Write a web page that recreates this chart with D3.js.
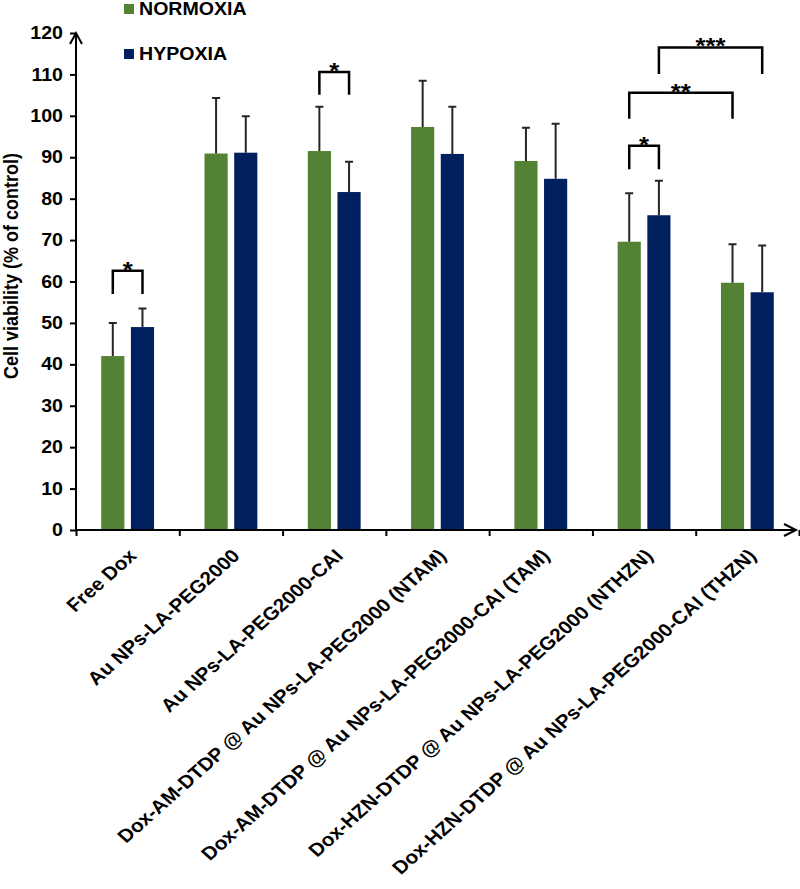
<html>
<head>
<meta charset="utf-8">
<title></title>
<style>
body{margin:0;background:#fff;}
text{font-family:"Liberation Sans",Arial,sans-serif;font-weight:bold;fill:#000;}
</style>
</head>
<body>
<svg width="800" height="889"></svg>
<script src="https://d3js.org/d3.v7.min.js" charset="utf-8"></script>
<script>
// categories along x
var cats = ["Free Dox", "Au NPs-LA-PEG2000", "Au NPs-LA-PEG2000-CAI",
    "Dox-AM-DTDP @ Au NPs-LA-PEG2000 (NTAM)", "Dox-AM-DTDP @ Au NPs-LA-PEG2000-CAI (TAM)",
    "Dox-HZN-DTDP @ Au NPs-LA-PEG2000 (NTHZN)", "Dox-HZN-DTDP @ Au NPs-LA-PEG2000-CAI (THZN)"];
var series = ["NORMOXIA", "HYPOXIA"];
var colors = ["#548235", "#002060"];
// mean values and SD (upper error only)
var normoxia = [42, 90.9, 91.5, 97.3, 89.1, 69.6, 59.7];
var normoxiaSd = [8, 13.4, 10.7, 11.2, 8, 11.7, 9.3];
var hypoxia = [49, 91.1, 81.6, 90.8, 84.8, 76, 57.4];
var hypoxiaSd = [4.5, 8.8, 7.3, 11.4, 13.3, 8.3, 11.3];
var yTicks = d3.range(0, 121, 10);
// significance brackets: [cat1, series1, cat2, series2, top, leg end, label]
var brackets = [
    [0, 0, 0, 1, 62.6, 57, "*"],
    [2, 0, 2, 1, 110.6, 105.1, "*"],
    [5, 0, 5, 1, 92.8, 87.1, "*"],
    [5, 0, 6, 0, 105.6, 99.3, "**"],
    [5, 1, 6, 1, 116.5, 110.1, "***"]
];

var svg = d3.select("svg");
var kx = 1.12; // the original picture is a bit wider than tall

var y = d3.scaleLinear().domain([0, 120]).range([530, 33]);
var xi = d3.scaleLinear().domain([0, cats.length]).range([76, 799]);
var x = d3.scaleBand().domain(cats).range([76, 799]);
var xs = d3.scaleBand().domain(series).range([0, x.bandwidth()])
    .paddingInner(0.22).paddingOuter(0.85);

var values = [normoxia, hypoxia];
var sds = [normoxiaSd, hypoxiaSd];

function cx(c, s) {
    return x(cats[c]) + xs(series[s]) + xs.bandwidth() / 2;
}

// bars
series.forEach(function(s, si) {
    var g = svg.append("g");
    g.selectAll("rect")
        .data(values[si])
        .enter()
        .append("rect")
        .attr("x", function(d, i) { return x(cats[i]) + xs(s); })
        .attr("y", function(d) { return y(d); })
        .attr("width", xs.bandwidth())
        .attr("height", function(d) { return y(0) - y(d); })
        .attr("fill", colors[si]);

    // error bars
    g.selectAll("path.err")
        .data(values[si])
        .enter()
        .append("path")
        .attr("class", "err")
        .attr("d", function(d, i) {
            var c = cx(i, si), t = y(d + sds[si][i]);
            return "M" + c + "," + y(d) + "V" + t + "M" + (c - 4) + "," + t + "H" + (c + 4);
        })
        .attr("stroke", "#262626")
        .attr("stroke-width", 2)
        .attr("fill", "none");
});

// y axis
var ya = svg.append("g")
    .attr("transform", "translate(76,0)")
    .call(d3.axisLeft(y).tickValues(yTicks).tickSize(6).tickSizeOuter(0).tickPadding(0));
ya.select(".domain").remove();
ya.selectAll(".tick line").attr("stroke", "#000").attr("stroke-width", 2);
ya.selectAll(".tick text")
    .attr("x", -13 / kx)
    .attr("transform", "scale(" + kx + ",1)")
    .style("font-size", "17.5px")
    .style("font-family", "'Liberation Sans',Arial,sans-serif")
    .style("font-weight", "bold");

// x axis (ticks on category boundaries)
var xa = svg.append("g")
    .attr("transform", "translate(0,530)")
    .call(d3.axisBottom(xi).tickValues(d3.range(0, cats.length + 1)).tickFormat("").tickSize(6).tickSizeOuter(0));
xa.select(".domain").remove();
xa.selectAll(".tick line").attr("stroke", "#000").attr("stroke-width", 2);

// axis lines with arrows
svg.append("path")
    .attr("d", "M76," + y(120) + "V530H796")
    .attr("stroke", "#000").attr("stroke-width", 2).attr("fill", "none");
svg.append("path")
    .attr("d", "M70," + (y(120) + 11) + "L76," + y(120) + "L82," + (y(120) + 11))
    .attr("stroke", "#000").attr("stroke-width", 2).attr("fill", "none");
svg.append("path")
    .attr("d", "M784,524L796,530L784,536")
    .attr("stroke", "#000").attr("stroke-width", 2).attr("fill", "none");

// x labels
svg.append("g").selectAll("text")
    .data(cats)
    .enter()
    .append("text")
    .attr("transform", function(d) {
        return "translate(" + (x(d) + x.bandwidth() / 2 + 10) + ",557) scale(" + kx + ",1) rotate(-45)";
    })
    .attr("text-anchor", "end")
    .style("font-size", "18.5px")
    .text(function(d) { return d; });

// y label
svg.append("text")
    .attr("transform", "translate(18,266) scale(" + kx + ",1) rotate(-90)")
    .attr("text-anchor", "middle")
    .style("font-size", "18px")
    .text("Cell viability (% of control)");

// significance brackets
var bg = svg.append("g");
brackets.forEach(function(b) {
    var x1 = cx(b[0], b[1]), x2 = cx(b[2], b[3]);
    bg.append("path")
        .attr("d", "M" + x1 + "," + y(b[5]) + "V" + y(b[4]) + "H" + x2 + "V" + y(b[5]))
        .attr("stroke", "#000").attr("stroke-width", 2.5).attr("fill", "none");
    bg.append("text")
        .attr("transform", "translate(" + ((x1 + x2) / 2) + "," + (y(b[4]) + 6) + ") scale(" + kx + ",1)")
        .attr("text-anchor", "middle")
        .style("font-size", "23px")
        .text(b[6]);
});

// legend
var lg = svg.append("g");
series.forEach(function(s, i) {
    lg.append("rect")
        .attr("x", 124).attr("y", 4 + i * 45)
        .attr("width", 10).attr("height", 10)
        .attr("fill", colors[i]);
    lg.append("text")
        .attr("transform", "translate(139," + (15 + i * 45) + ") scale(" + kx + ",1)")
        .style("font-size", "17.5px")
        .text(s);
});
</script>
</body>
</html>
